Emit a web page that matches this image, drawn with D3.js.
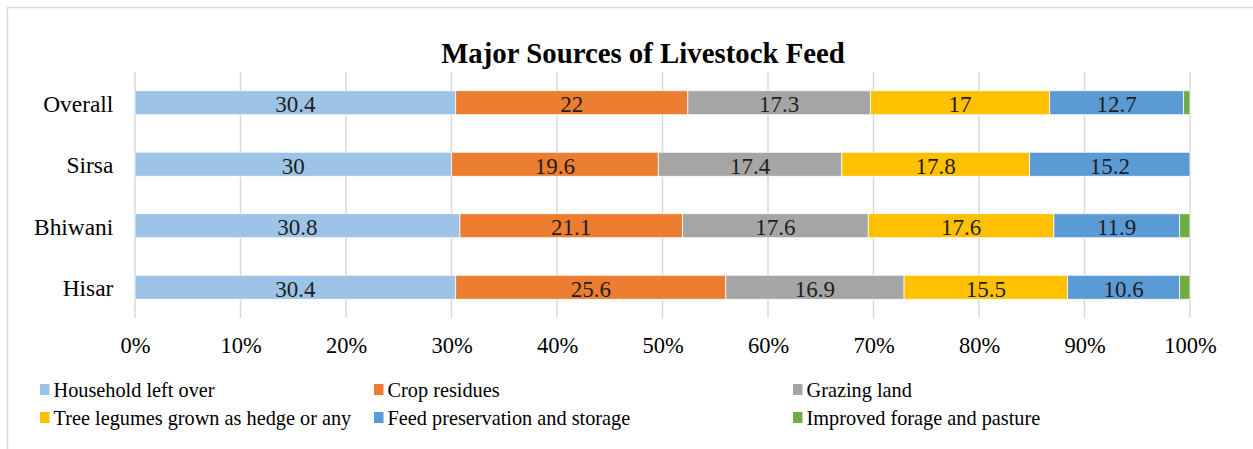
<!DOCTYPE html>
<html>
<head>
<meta charset="utf-8">
<script src="https://cdn.jsdelivr.net/npm/d3@7"></script>
<style>
body { margin: 0; background: #fff; }
</style>
</head>
<body>
<div id="body"></div>
<script>
// data
let regions = ['Overall', 'Sirsa', 'Bhiwani', 'Hisar']
let sources = ['Household left over', 'Crop residues', 'Grazing land', 'Tree legumes grown as hedge or any', 'Feed preservation and storage', 'Improved forage and pasture']
let household = [30.4, 30, 30.8, 30.4]
let crop = [22, 19.6, 21.1, 25.6]
let grazing = [17.3, 17.4, 17.6, 16.9]
let tree = [17, 17.8, 17.6, 15.5]
let feed = [12.7, 15.2, 11.9, 10.6]
let improved = [0.6, 0, 1.0, 1.0]
let ticks = [0, 0.1, 0.2, 0.3, 0.4, 0.5, 0.6, 0.7, 0.8, 0.9, 1]
let colors = ['#9DC3E6', '#ED7D31', '#A5A5A5', '#FFC000', '#5B9BD5', '#70AD47']

let size = { width: 1253, height: 449 }
let plot = { left: 135, right: 1190, top: 72, bottom: 318 }
let font = '"Liberation Serif"'

let svg = d3.select('#body')
  .append('svg')
  .attr('width', size.width)
  .attr('height', size.height)

// chart frame (cropped on right and bottom)
svg.append('rect')
  .attr('x', 7.5).attr('y', 7.5)
  .attr('width', 1300).attr('height', 500)
  .attr('fill', 'none')
  .attr('stroke', '#D9D9D9')
  .attr('stroke-width', 1.5)

svg.append('text')
  .attr('x', 643).attr('y', 63)
  .attr('text-anchor', 'middle')
  .style('font-family', font)
  .attr('font-size', 28.8)
  .attr('font-weight', 'bold')
  .attr('fill', '#000')
  .text('Major Sources of Livestock Feed')

// build table for stacking
let series = [household, crop, grazing, tree, feed, improved]
let rows = regions.map((r, i) => {
  let row = { region: r }
  let total = d3.sum(series, s => s[i])
  sources.forEach((s, j) => { row[s] = series[j][i]; row[s + '_p'] = series[j][i] / total })
  return row
})
let stack = d3.stack().keys(sources.map(s => s + '_p'))(rows)

let xScale = d3.scaleLinear().domain([0, 1]).range([plot.left, plot.right])
let yScale = d3.scaleBand().domain(regions).range([plot.top, plot.bottom]).paddingInner(0.61).paddingOuter(0.305)

// gridlines
svg.append('g')
  .selectAll('line')
  .data(ticks)
  .join('line')
  .attr('x1', d => xScale(d)).attr('x2', d => xScale(d))
  .attr('y1', plot.top).attr('y2', plot.bottom)
  .attr('stroke', '#D9D9D9')
  .attr('stroke-width', 1.5)

let xAxis = d3.axisBottom(xScale).tickValues(ticks).tickFormat(d3.format('.0%')).tickSize(0)
let gX = svg.append('g')
  .attr('transform', `translate(0,${plot.bottom})`)
  .call(xAxis)
gX.select('.domain').remove()
gX.selectAll('text')
  .attr('y', 35).attr('dy', 0)
  .attr('font-size', 22.5).style('font-family', font).attr('fill', '#000')

let yAxis = d3.axisLeft(yScale).tickSize(0).tickPadding(21.7)
let gY = svg.append('g')
  .attr('transform', `translate(${plot.left},0)`)
  .call(yAxis)
gY.select('.domain').remove()
gY.selectAll('text')
  .attr('dy', '0.38em')
  .attr('font-size', 23.4).style('font-family', font).attr('fill', '#000')

// bars
let layers = svg.append('g')
  .selectAll('g')
  .data(stack)
  .join('g')
  .attr('fill', (d, i) => colors[i])
layers.selectAll('rect')
  .data(d => d)
  .join('rect')
  .attr('x', d => xScale(d[0]))
  .attr('y', d => yScale(d.data.region))
  .attr('width', d => xScale(d[1]) - xScale(d[0]))
  .attr('height', yScale.bandwidth())
  .attr('stroke', '#fff')
  .attr('stroke-width', 0.75)

// data labels (not for the last series)
stack.slice(0, 5).forEach((layer, i) => {
  svg.append('g')
    .selectAll('text')
    .data(layer)
    .join('text')
    .attr('x', d => (xScale(d[0]) + xScale(d[1])) / 2)
    .attr('y', d => yScale(d.data.region) + yScale.bandwidth() / 2 + 9.5)
    .attr('text-anchor', 'middle')
    .style('font-family', font)
    .attr('font-size', 23)
    .attr('fill', '#1e1e1e')
    .text(d => d.data[sources[i]])
})

// legend
let legendPos = [[40, 397], [374, 397], [793, 397], [40, 425], [374, 425], [793, 425]]
let legend = svg.append('g')
  .selectAll('g')
  .data(sources)
  .join('g')
  .attr('transform', (d, i) => `translate(${legendPos[i][0]},${legendPos[i][1]})`)
legend.append('rect')
  .attr('x', 0).attr('y', -13)
  .attr('width', 9.5).attr('height', 11)
  .attr('fill', (d, i) => colors[i])
legend.append('text')
  .attr('x', 13.5).attr('y', 0)
  .style('font-family', font)
  .attr('font-size', 20.3)
  .attr('fill', '#000')
  .text(d => d)
</script>
</body>
</html>
